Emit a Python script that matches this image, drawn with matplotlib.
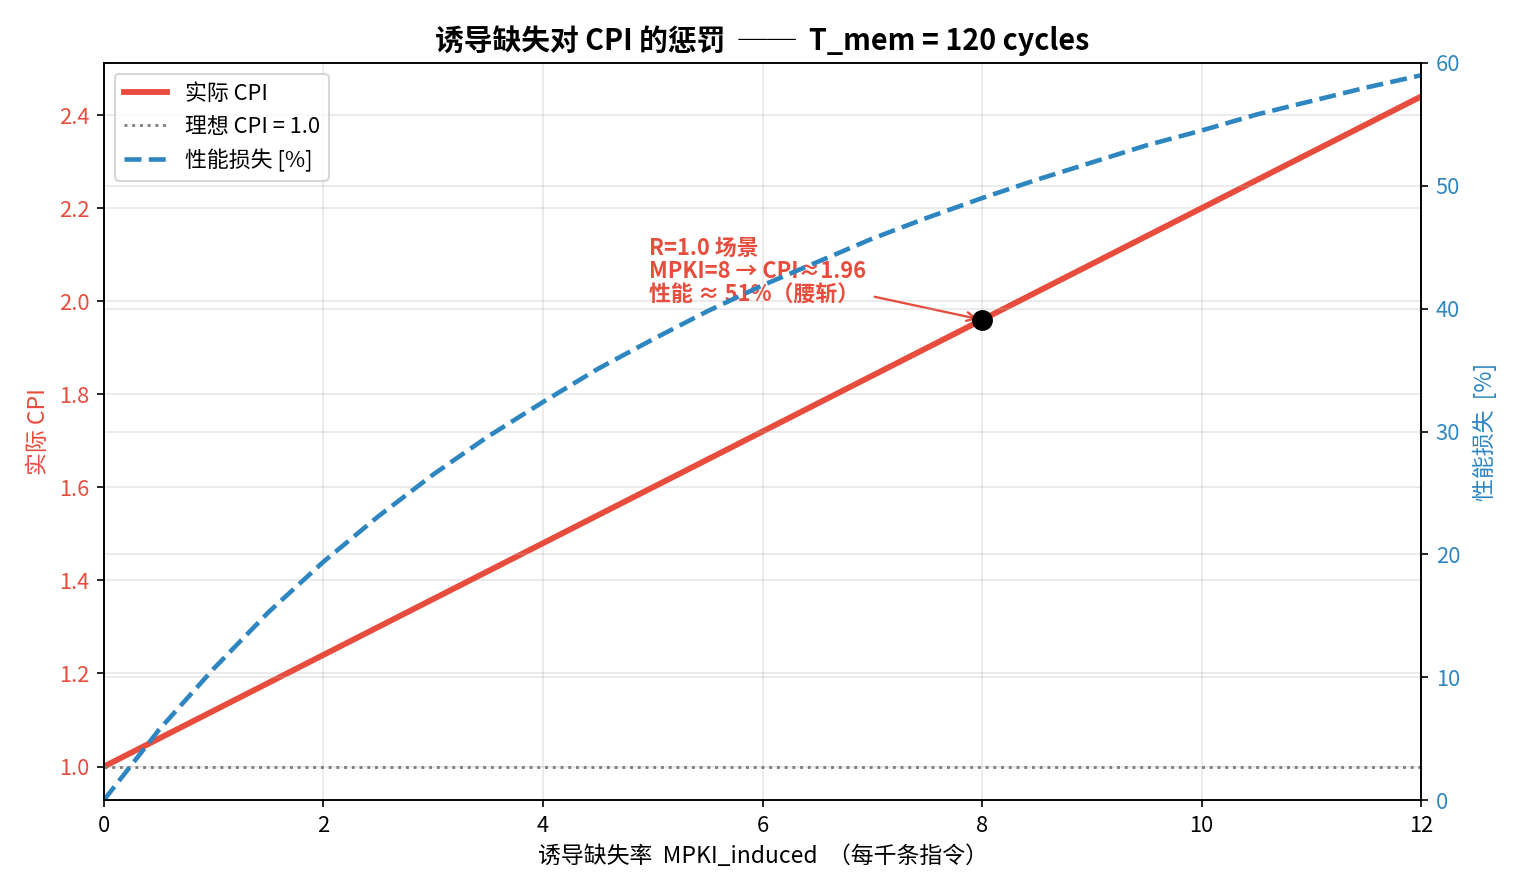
import matplotlib
matplotlib.use('Agg')
import matplotlib.pyplot as plt

plt.rcParams['font.family'] = ['Noto Sans CJK SC', 'DejaVu Sans']
plt.rcParams['axes.unicode_minus'] = False

# datos
mpki = [0, 1, 2, 3, 4, 5, 6, 7, 8, 9, 10, 11, 12]
cpi = [1.00, 1.12, 1.24, 1.36, 1.48, 1.60, 1.72, 1.84, 1.96, 2.08, 2.20, 2.32, 2.44]
mpki_fino = [0, 0.5, 1, 1.5, 2, 2.5, 3, 3.5, 4, 4.5, 5, 5.5, 6, 6.5, 7, 7.5,
             8, 8.5, 9, 9.5, 10, 10.5, 11, 11.5, 12]
perdida = [0, 5.7, 10.7, 15.3, 19.4, 23.1, 26.5, 29.6, 32.4, 35.1, 37.5, 39.8,
           41.9, 43.8, 45.7, 47.4, 49.0, 50.5, 51.9, 53.3, 54.5, 55.8, 56.9,
           58.0, 59.0]
cpi_ideal = 1.0
punto = (8, 1.96)

rojo = '#e74c3c'
azul = '#2e86c1'

fig = plt.figure(figsize=(15.2 / 1.5, 8.96 / 1.5), dpi=150)
ax = fig.add_subplot(111)
fig.subplots_adjust(left=0.0684, right=0.9349, top=0.9297, bottom=0.1071)

l1, = ax.plot(mpki, cpi, color=rojo, lw=2.8, label='实际 CPI')
l2 = ax.axhline(cpi_ideal, color='gray', ls=':', lw=1.4, label='理想 CPI = 1.0')
ax.plot([punto[0]], [punto[1]], 'o', color='black', ms=9, zorder=5)
ax.set_xlim(0, 12)
ax.set_ylim(0.928, 2.512)
ax.set_xlabel('诱导缺失率  MPKI_induced  （每千条指令）', fontsize=11)
ax.set_ylabel('实际 CPI', color=rojo, fontsize=11)
ax.tick_params(axis='y', colors=rojo, labelsize=10.5)
ax.tick_params(axis='x', labelsize=10.5)
ax.grid(True, alpha=0.3)

ax.annotate('R=1.0 场景\nMPKI=8 → CPI≈1.96\n性能 ≈ 51%（腰斩）',
            xy=punto, xytext=(4.97, 2.0), color=rojo, fontsize=10.5,
            fontweight='bold', linespacing=1.0,
            arrowprops=dict(arrowstyle='->', color=rojo, lw=1.1))

ax2 = ax.twinx()
l3, = ax2.plot(mpki_fino, perdida, color=azul, ls='--', lw=2.2, label='性能损失 [%]')
ax2.set_ylim(0, 60)
ax2.set_ylabel('性能损失  [%]', color=azul, fontsize=11, labelpad=6)
ax2.tick_params(axis='y', colors=azul, labelsize=10.5)
ax2.grid(True, alpha=0.3)

ax.tick_params(axis='y', color='black')
ax2.tick_params(axis='y', color='black')

ax.legend(handles=[l1, l2, l3], loc='upper left', fontsize=10.5)
ax.set_title('诱导缺失对 CPI 的惩罚  ──  T_mem = 120 cycles',
             fontsize=13.8, fontweight='bold')

fig.savefig('out.png', dpi=150)
